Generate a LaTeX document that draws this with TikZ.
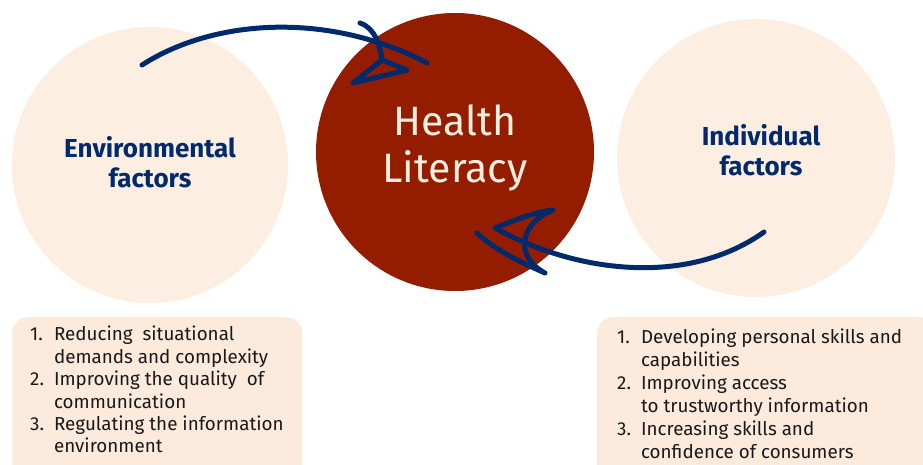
\documentclass[tikz,border=0pt]{standalone}
\usepackage{fontspec}
\setmainfont{Fira Sans}
\definecolor{peach}{HTML}{FDEEE2}
\definecolor{boxpeach}{HTML}{FCEADD}
\definecolor{hlred}{HTML}{941D00}
\definecolor{navy}{HTML}{002A6C}
\definecolor{cream}{HTML}{FDEEDF}
\tikzset{
  x=1pt, y=-1pt,
  bigcircle/.style={circle, inner sep=0pt, minimum size=#1, draw=none},
  factor/.style={text=navy, font=\fontsize{26}{30}\selectfont\bfseries, align=center},
  listbox/.style={fill=boxpeach, rounded corners=16pt, draw=none, anchor=north west, inner sep=0pt},
  listtext/.style={anchor=north west, inner sep=0pt, text=black!90},
  swoosh/.style={draw=navy, line width=5pt, line cap=round, line join=round}
}
\begin{document}
\begin{tikzpicture}
\useasboundingbox (0,0) rectangle (923,465);
\fill[white] (0,0) rectangle (923,465);
% circles
\node[bigcircle=276pt, fill=peach] (env) at (150,165) {};
\node[bigcircle=278pt, fill=peach] (ind) at (756,158) {};
\node[bigcircle=278pt, fill=hlred] (hl) at (455,152) {};
% labels
\node[factor] (envlab) at (150,162) {Environmental\\factors};
\node[factor] (indlab) at (761,150) {Individual\\factors};
\node[text=cream, font=\fontsize{41}{47}\selectfont, align=center] (hllab) at (455,148) {Health\\Literacy};
% list boxes
\node[listbox, minimum width=290pt, minimum height=170pt] (envbox) at (12,317) {};
\node[listbox, minimum width=340pt, minimum height=170pt] (indbox) at (597,317) {};
\node[listtext, font=\fontsize{18.8}{22.4}\selectfont] (envlist) at (30,325) {\begin{tabular}{@{}l@{\hspace{10pt}}l@{}}
1.&Reducing\ \ situational\\
  &demands and complexity\\
2.&Improving the quality\ \ of\\
  &communication\\
3.&Regulating the information\\
  &environment
\end{tabular}};
\node[listtext, font=\fontsize{18.8}{23}\selectfont] (indlist) at (617,327) {\begin{tabular}{@{}l@{\hspace{10pt}}l@{}}
1.&Developing personal skills and\\
  &capabilities\\
2.&Improving access\\
  &to trustworthy information\\
3.&Increasing skills and\\
  &confidence of consumers
\end{tabular}};
% arrow from environmental factors to health literacy
\coordinate (a1s) at (142,65);
\coordinate (a1e) at (427,63);
\draw[swoosh] (a1s) .. controls (215,18) and (330,12) .. (a1e);
\coordinate (h1top) at (360,23);
\coordinate (h1in) at (382,60);
\coordinate (h1bot) at (353,83);
\coordinate (h1tip) at (407,70);
\draw[swoosh] (h1top) .. controls (375,28) and (380,45) .. (h1in) -- (h1bot) -- (h1tip) -- (h1in);
% arrow from individual factors to health literacy
\coordinate (a2s) at (764,232);
\coordinate (h2tip) at (495,228);
\coordinate (h2top) at (553,210);
\coordinate (h2bot) at (545,273);
\coordinate (h2end) at (477,233);
\draw[swoosh] (a2s) .. controls (690,285) and (580,275) .. (h2tip)
  .. controls (515,220) and (535,212) .. (h2top)
  .. controls (522,222) and (512,255) .. (h2bot)
  .. controls (520,262) and (495,250) .. (h2end);
\end{tikzpicture}
\end{document}
